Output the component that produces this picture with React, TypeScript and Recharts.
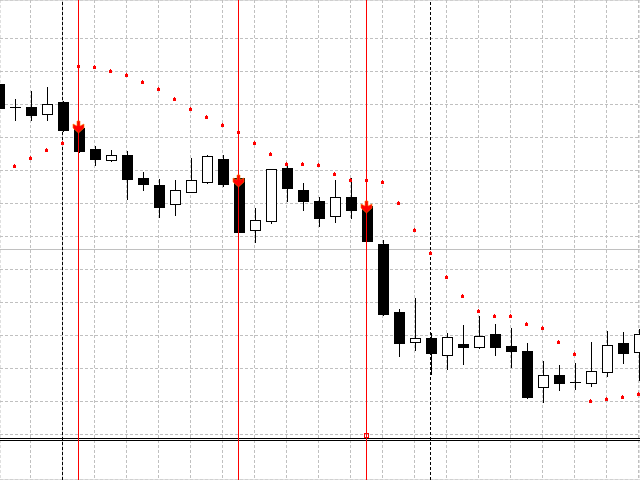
import React from "react";
import {
  ComposedChart,
  Bar,
  Scatter,
  XAxis,
  YAxis,
  CartesianGrid,
  ReferenceLine,
  ReferenceDot,
} from "recharts";

// Candle OHLC values (price units, index = bar number)
const opens = [396, 373, 373, 366, 378, 352, 331, 320, 325, 302, 295, 276, 288, 298, 321, 302, 250, 259, 312, 290, 279, 264, 283, 274, 236, 168, 138, 142, 125, 136, 133, 146, 134, 129, 93, 105, 98, 97, 108, 137, 128];
const highs = [398, 381, 389, 393, 379, 353, 334, 330, 329, 308, 301, 300, 322, 325, 325, 304, 272, 311, 316, 297, 283, 300, 302, 275, 240, 171, 182, 147, 147, 155, 164, 156, 152, 137, 119, 115, 117, 138, 149, 148, 151];
const lows = [370, 360, 360, 360, 349, 328, 315, 319, 281, 290, 263, 265, 288, 297, 294, 248, 238, 257, 279, 270, 254, 258, 262, 239, 165, 124, 130, 106, 111, 116, 132, 125, 113, 82, 78, 90, 91, 94, 104, 117, 100];
const closes = [372, 373, 365, 376, 350, 329, 321, 325, 301, 296, 273, 290, 300, 324, 296, 248, 260, 311, 292, 279, 262, 283, 270, 239, 166, 137, 142, 127, 143, 133, 144, 133, 129, 83, 105, 97, 98, 109, 135, 127, 146];

// Parabolic SAR values (null = not visible)
const sarValues: (number | null)[] = [null, 314, 322, 330, 337, 414, 413, 409, 405, 398, 391, 381, 371, 363, 355, 348, 337, 326, 316, 316, 315, 306, 300, 300, 298, 277, 250, 227, 203, 184, 169, 164, 164, 156, 152, 138, 126, 79, 81, 83, 86];

// Sell signals (bar index and arrow top value)
const signalIdx = [5, 15, 23];
const signalValues = [359, 305, 279];

// Grid levels
const gridX = [2, 4, 6, 8, 10, 12, 14, 16, 18, 20, 22, 24, 26, 28, 30, 32, 34, 36, 38, 40];
const gridY = [474.5, 441.5, 408.5, 375.5, 342.5, 309.5, 276.5, 243.5, 210.5, 177.5, 144.5, 111.5, 78.5, 45.5];
const levelLines = [230.5];
const blackDashX = [4, 27];
const bottomLines = [41.5, 39.5];
const markerIdx = 23;
const markerValue = 45;

const candles = opens.map((o, i) => ({
  i,
  open: o,
  high: highs[i],
  low: lows[i],
  close: closes[i],
  range: [lows[i], highs[i]],
}));

const sarData = sarValues
  .map((v, i) => ({ i, sar: v }))
  .filter((d) => d.sar !== null);

const signalData = signalIdx.map((idx, k) => ({ i: idx, sig: signalValues[k] }));

const CandleShape = (props: any) => {
  const { x, y, width, height, payload } = props;
  if (x == null || y == null || !payload) return null;
  const { open, close, high, low } = payload;
  const k = high !== low ? height / (high - low) : 1;
  const cc = Math.floor(x + width / 2);
  const top = Math.round(y + (high - Math.max(open, close)) * k);
  const bot = Math.round(y + (high - Math.min(open, close)) * k);
  const els: any[] = [];
  els.push(
    <rect key="w" x={cc} y={Math.round(y)} width={1} height={Math.round(height) + 1} fill="#000" />
  );
  if (top === bot) {
    els.push(<rect key="d" x={cc - 5} y={top} width={11} height={1} fill="#000" />);
  } else if (close < open) {
    els.push(<rect key="b" x={cc - 5} y={top} width={11} height={bot - top + 1} fill="#000" />);
  } else {
    els.push(
      <rect
        key="b"
        x={cc - 4.5}
        y={top + 0.5}
        width={10}
        height={bot - top}
        fill="#fff"
        stroke="#000"
        strokeWidth={1}
      />
    );
  }
  return <g>{els}</g>;
};

const SarDot = (props: any) => {
  const { cx, cy } = props;
  if (cx == null || cy == null) return null;
  const x0 = Math.round(cx - 1.5);
  const y0 = Math.round(cy);
  return (
    <g>
      <rect x={x0} y={y0 - 1} width={3} height={3} fill="#ff0000" />
      <rect x={x0 + 1} y={y0 - 2} width={1} height={1} fill="#ff0000" />
    </g>
  );
};

const ArrowShape = (props: any) => {
  const { cx, cy } = props;
  if (cx == null || cy == null) return null;
  const t = cy;
  const pts = [
    [cx - 1.5, t],
    [cx + 1.5, t],
    [cx + 1.5, t + 5],
    [cx + 5.5, t + 3],
    [cx + 5.5, t + 7],
    [cx, t + 12],
    [cx - 5.5, t + 7],
    [cx - 5.5, t + 3],
    [cx - 1.5, t + 5],
  ]
    .map((p) => p.join(","))
    .join(" ");
  return <polygon points={pts} fill="#ff0000" stroke="#ff7a00" strokeWidth={0.6} />;
};

const MarkerShape = (props: any) => {
  const { cx, cy } = props;
  if (cx == null || cy == null) return null;
  return (
    <rect x={cx - 2} y={cy - 1.5} width={4} height={4} fill="none" stroke="#ff0000" strokeWidth={1} />
  );
};

export default function App() {
  return (
    <div style={{ position: "absolute", left: 0, top: 0, width: 640, height: 480, background: "#fff" }}>
      <ComposedChart
        width={640}
        height={480}
        data={candles}
        margin={{ top: 0, right: 0, bottom: 0, left: 0 }}
      >
        <XAxis
          dataKey="i"
          type="number"
          domain={[0.09375, 40.09375]}
          ticks={gridX}
          allowDataOverflow
          hide
        />
        <YAxis type="number" domain={[0, 480]} ticks={gridY} allowDataOverflow hide />
        <YAxis
          yAxisId="lvl"
          type="number"
          domain={[0, 480]}
          ticks={levelLines}
          allowDataOverflow
          hide
        />
        <CartesianGrid stroke="#c0c0c0" strokeDasharray="3 2" />
        <CartesianGrid yAxisId="lvl" vertical={false} stroke="#c0c0c0" />
        <Bar dataKey="range" barSize={11} shape={CandleShape} isAnimationActive={false} />
        {bottomLines.map((by) => (
          <ReferenceLine key={"bl" + by} y={by} stroke="#000" />
        ))}
        {blackDashX.map((bx) => (
          <ReferenceLine key={"bx" + bx} x={bx} stroke="#000" strokeDasharray="3 2" />
        ))}
        {signalIdx.map((sx) => (
          <ReferenceLine key={"rl" + sx} x={sx} stroke="#ff0000" />
        ))}
        <Scatter data={sarData} dataKey="sar" shape={SarDot} isAnimationActive={false} />
        <Scatter data={signalData} dataKey="sig" shape={ArrowShape} isAnimationActive={false} />
        <ReferenceDot x={markerIdx} y={markerValue} shape={MarkerShape} />
      </ComposedChart>
    </div>
  );
}
